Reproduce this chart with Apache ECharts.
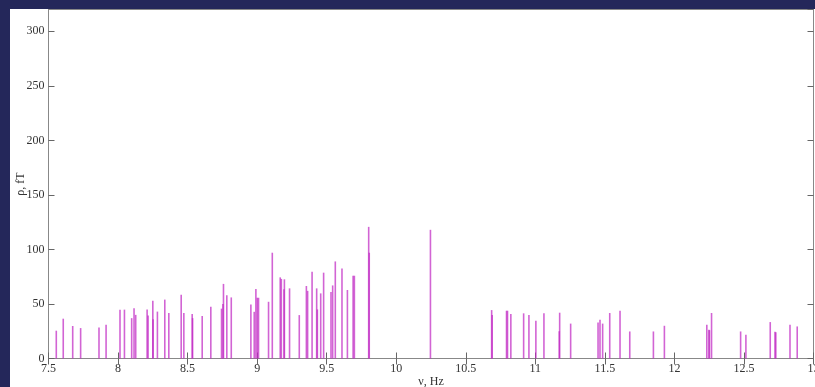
<!DOCTYPE html>
<html>
<head>
<meta charset="utf-8">
<script src="https://cdn.jsdelivr.net/npm/echarts@6/dist/echarts.min.js"></script>
<style>
  html, body { margin: 0; padding: 0; background: #24275a; width: 815px; height: 387px; overflow: hidden; }
  #chart { position: absolute; left: 10px; top: 9px; width: 805px; height: 378px; background: #fff; }
</style>
</head>
<body>
<div id="chart"></div>
<script>
// spectral lines: frequency (Hz) and amplitude (fT)
const freqs = [
  7.556, 7.606, 7.674, 7.731, 7.863, 7.914, 8.014, 8.046, 8.098, 8.115,
  8.127, 8.209, 8.216, 8.25, 8.252, 8.283, 8.336, 8.365, 8.454, 8.473,
  8.533, 8.536, 8.605, 8.667, 8.744, 8.754, 8.758, 8.782, 8.814, 8.955,
  8.979, 8.991, 9.001, 9.01, 9.082, 9.109, 9.166, 9.174, 9.193, 9.196,
  9.233, 9.303, 9.354, 9.363, 9.395, 9.428, 9.433, 9.457, 9.478, 9.531,
  9.543, 9.562, 9.61, 9.649, 9.69, 9.699, 9.802, 9.806, 10.246, 10.686,
  10.69, 10.793, 10.8, 10.824, 10.916, 10.954, 11.004, 11.062, 11.172, 11.175,
  11.254, 11.451, 11.465, 11.484, 11.535, 11.609, 11.679, 11.849, 11.928, 12.233,
  12.248, 12.252, 12.267, 12.476, 12.514, 12.689, 12.723, 12.729, 12.831, 12.883
];
const amps = [
  25.5, 36.5, 29.8, 27.9, 28.5, 31, 44.8, 44.8, 37, 46,
  40, 45, 39.5, 53, 36, 43, 54, 41.7, 58.5, 41.7,
  40.8, 37, 39, 47.5, 45.7, 50, 68.4, 58, 56, 49.6,
  42.8, 63.7, 55.7, 55.7, 52, 97, 74.4, 73, 63.4, 72.6,
  64.3, 39.8, 66.5, 62, 79.6, 64.3, 45, 59.7, 78.7, 61,
  67, 89, 82.6, 62.8, 75.9, 75.9, 120.7, 97, 118, 44.4,
  40, 43.8, 43.8, 40.8, 41.4, 39.9, 34.6, 41.4, 25, 42,
  32, 33, 35.6, 32, 41.7, 43.8, 24.8, 24.8, 30, 31,
  26.4, 26, 41.7, 24.8, 21.8, 33.4, 24.5, 24, 31, 29.4
];
const xMin = 7.5, xMax = 13, xStep = 0.5;
const yMin = 0, yMax = 320, yStep = 50;

const chart = echarts.init(document.getElementById('chart'));
const font = '"Liberation Serif", "DejaVu Serif", serif';
const tick = { show: true, inside: true, length: 6, lineStyle: { color: '#666', width: 1 } };
const line = { show: true, lineStyle: { color: '#888', width: 1 } };

chart.setOption({
  animation: false,
  grid: {
    left: 38.5, right: 1.5, top: 0.5, bottom: 28.5,
    outerBoundsMode: 'none', containLabel: false,
    show: true, borderColor: '#888', borderWidth: 1
  },
  xAxis: [
    {
      type: 'value', min: xMin, max: xMax, interval: xStep,
      name: 'ν, Hz', nameLocation: 'middle', nameGap: 17, nameMoveOverlap: false,
      nameTextStyle: { fontFamily: font, fontSize: 12, color: '#333', verticalAlign: 'top' },
      axisLine: line, axisTick: tick, splitLine: { show: false },
      axisLabel: { margin: 4, fontFamily: font, fontSize: 12, color: '#333' }
    },
    {
      type: 'value', position: 'top', min: xMin, max: xMax, interval: xStep,
      axisLine: line, axisTick: tick, axisLabel: { show: false }, splitLine: { show: false }
    }
  ],
  yAxis: [
    {
      type: 'value', min: yMin, max: yMax, interval: yStep,
      name: 'ρ, fT', nameLocation: 'middle', nameGap: 22, nameMoveOverlap: false,
      nameTextStyle: { fontFamily: font, fontSize: 12, color: '#333' },
      axisLine: line, axisTick: tick, splitLine: { show: false },
      axisLabel: {
        margin: 4, fontFamily: font, fontSize: 12, color: '#333', showMaxLabel: false,
        formatter: v => (v % yStep === 0 ? String(v) : '')
      }
    },
    {
      type: 'value', position: 'right', min: yMin, max: yMax, interval: yStep,
      axisLine: line, axisTick: tick, axisLabel: { show: false }, splitLine: { show: false }
    }
  ],
  series: [
    {
      type: 'bar',
      barWidth: 1.6,
      itemStyle: { color: 'rgba(192, 40, 196, 0.72)' },
      data: freqs.map((f, i) => [f, amps[i]])
    }
  ]
});
</script>
</body>
</html>
